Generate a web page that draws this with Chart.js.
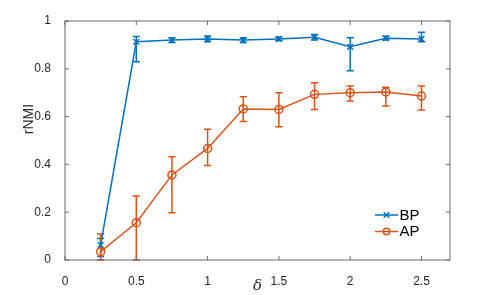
<!DOCTYPE html>
<html><head><meta charset="utf-8">
<script src="https://cdn.jsdelivr.net/npm/chart.js@4"></script>
<style>html,body{margin:0;padding:0;background:#fff}#wrap{width:498px;height:295px}</style>
</head><body><div id="wrap"><canvas id="c" width="498" height="295"></canvas></div>
<script>
// ---- data ----
const deltas = [0.25, 0.5, 0.75, 1.0, 1.25, 1.5, 1.75, 2.0, 2.25, 2.5];
const bpMean = [0.063, 0.913, 0.920, 0.925, 0.920, 0.925, 0.932, 0.892, 0.928, 0.925];
const bpLow  = [0.015, 0.830, 0.910, 0.913, 0.910, 0.917, 0.920, 0.792, 0.920, 0.913];
const bpHigh = [0.090, 0.935, 0.930, 0.937, 0.930, 0.933, 0.944, 0.930, 0.936, 0.953];
const apMean = [0.035, 0.156, 0.356, 0.467, 0.632, 0.630, 0.693, 0.700, 0.703, 0.686];
const apLow  = [0.000, 0.000, 0.198, 0.395, 0.579, 0.558, 0.630, 0.665, 0.644, 0.628];
const apHigh = [0.109, 0.268, 0.432, 0.547, 0.683, 0.700, 0.742, 0.728, 0.723, 0.728];
const seriesNames = ['BP', 'AP'];
const xTicks = [0, 0.5, 1, 1.5, 2, 2.5];
const xTickLabels = ['0', '0.5', '1', '1.5', '2', '2.5'];
const yTicks = [0, 0.2, 0.4, 0.6, 0.8, 1];
const yTickLabels = ['0', '0.2', '0.4', '0.6', '0.8', '1'];
const xTitle = 'δ';
const yTitle = 'rNMI';

const BLUE = '#0072BD', ORANGE = '#D95319', AX = '#262626';

const pts = (ys) => deltas.map((x, i) => ({x: x, y: ys[i]}));

const errorBars = {
  id: 'errorBars',
  beforeDatasetsDraw(chart) {
    const ctx = chart.ctx, xs = chart.scales.x, ys = chart.scales.y;
    chart.data.datasets.forEach((ds) => {
      ctx.save();
      ctx.strokeStyle = ds.borderColor; ctx.lineWidth = 1.5;
      ds.data.forEach((p, i) => {
        const px = xs.getPixelForValue(p.x);
        const y1 = ys.getPixelForValue(ds.low[i]), y2 = ys.getPixelForValue(ds.high[i]);
        ctx.beginPath();
        ctx.moveTo(px, y1); ctx.lineTo(px, y2);
        ctx.moveTo(px - 3.6, y1); ctx.lineTo(px + 3.6, y1);
        ctx.moveTo(px - 3.6, y2); ctx.lineTo(px + 3.6, y2);
        ctx.stroke();
      });
      ctx.restore();
    });
  }
};

const frame = {
  id: 'frame',
  afterDatasetsDraw(chart) {
    const ctx = chart.ctx, a = chart.chartArea, xs = chart.scales.x, ys = chart.scales.y;
    ctx.save();
    ctx.strokeStyle = '#6a6a6a'; ctx.lineWidth = 1;
    ctx.strokeRect(a.left, a.top, a.right - a.left, a.bottom - a.top);
    ctx.beginPath();
    const tl = 4;
    xTicks.forEach(v => {
      const px = xs.getPixelForValue(v);
      ctx.moveTo(px, a.bottom); ctx.lineTo(px, a.bottom - tl);
      ctx.moveTo(px, a.top); ctx.lineTo(px, a.top + tl);
    });
    yTicks.forEach(v => {
      const py = ys.getPixelForValue(v);
      ctx.moveTo(a.left, py); ctx.lineTo(a.left + tl, py);
      ctx.moveTo(a.right, py); ctx.lineTo(a.right - tl, py);
    });
    ctx.stroke();

    // axis titles
    ctx.fillStyle = AX;
    ctx.textAlign = 'center'; ctx.textBaseline = 'middle';
    ctx.font = 'italic 15px "DejaVu Serif", "Liberation Serif", serif';
    ctx.fillText(xTitle, (a.left + a.right) / 2, 286);
    ctx.save();
    ctx.translate(29, 119);
    ctx.rotate(-Math.PI / 2);
    ctx.font = '14px "Liberation Sans", Arial, sans-serif';
    ctx.fillText(yTitle, 0, 0);
    ctx.restore();

    // legend
    chart.data.datasets.forEach((ds, i) => {
      const y = 215 + i * 16.5;
      ctx.strokeStyle = ds.borderColor; ctx.lineWidth = 1.5;
      ctx.beginPath(); ctx.moveTo(375, y); ctx.lineTo(398, y); ctx.stroke();
      ctx.fillStyle = 'rgba(0,0,0,0)';
      Chart.helpers.drawPoint(ctx, {pointStyle: ds.pointStyle, radius: i === 0 ? 4 : 3.2, borderWidth: 1.5}, 386.5, y);
      ctx.fillStyle = '#000';
      ctx.textAlign = 'left'; ctx.textBaseline = 'middle';
      ctx.font = '15px "Liberation Sans", Arial, sans-serif';
      ctx.fillText(ds.label, 399.5, y + 0.5);
    });
    ctx.restore();
  }
};

new Chart(document.getElementById('c'), {
  type: 'line',
  data: {
    datasets: [
      {label: seriesNames[0], data: pts(bpMean), low: bpLow, high: bpHigh,
       borderColor: BLUE, backgroundColor: BLUE, borderWidth: 1.5,
       pointStyle: 'crossRot', pointRadius: 4, pointBorderWidth: 1.5, pointBorderColor: BLUE,
       tension: 0, clip: false},
      {label: seriesNames[1], data: pts(apMean), low: apLow, high: apHigh,
       borderColor: ORANGE, backgroundColor: 'rgba(0,0,0,0)', borderWidth: 1.5,
       pointStyle: 'circle', pointRadius: 4, pointBorderWidth: 1.5, pointBorderColor: ORANGE,
       pointBackgroundColor: 'rgba(0,0,0,0)', tension: 0, clip: false}
    ]
  },
  options: {
    responsive: false, animation: false, events: [],
    layout: {padding: {left: 0, right: 48, top: 21, bottom: 0}},
    plugins: {legend: {display: false}, tooltip: {enabled: false}},
    scales: {
      x: {
        type: 'linear', min: 0, max: 2.7,
        afterBuildTicks: (s) => { s.ticks = xTicks.map(v => ({value: v})); },
        afterFit: (s) => { s.height = 35; },
        grid: {display: false}, border: {display: false},
        ticks: {padding: 6, color: AX, maxRotation: 0, autoSkip: false,
          font: {family: '"Liberation Sans", Arial, sans-serif', size: 12},
          callback: (v) => xTickLabels[xTicks.indexOf(v)]}
      },
      y: {
        type: 'linear', min: 0, max: 1,
        afterBuildTicks: (s) => { s.ticks = yTicks.map(v => ({value: v})); },
        afterFit: (s) => { s.width = 65; },
        grid: {display: false}, border: {display: false},
        ticks: {padding: 6, color: AX, autoSkip: false,
          font: {family: '"Liberation Sans", Arial, sans-serif', size: 12},
          callback: (v) => yTickLabels[yTicks.indexOf(v)]}
      }
    }
  },
  plugins: [errorBars, frame]
});
</script></body></html>
